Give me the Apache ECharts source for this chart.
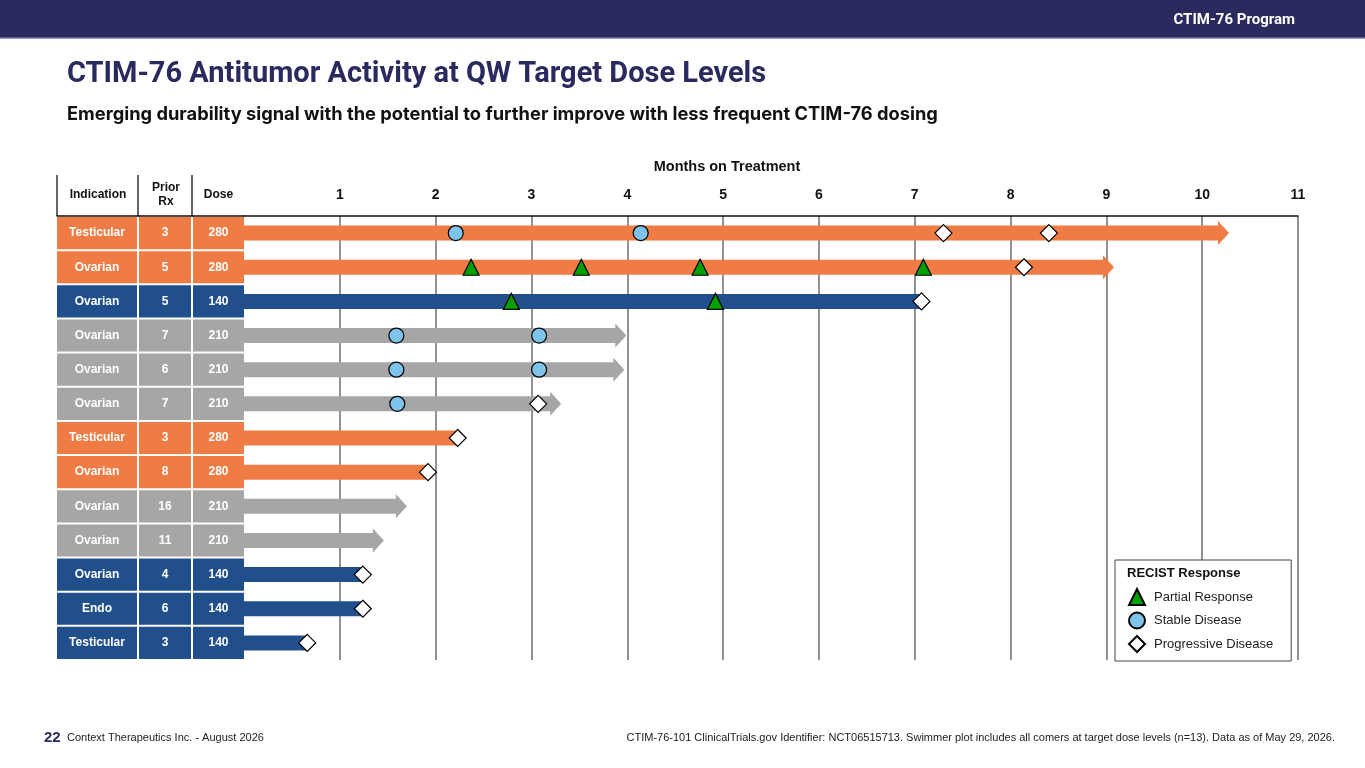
<!DOCTYPE html>
<html>
<head>
<meta charset="utf-8">
<script src="https://cdn.jsdelivr.net/npm/echarts@6/dist/echarts.min.js"></script>
<style>
  html, body { margin: 0; padding: 0; background: #fff; }
  #chart { width: 1365px; height: 768px; }
</style>
</head>
<body>
<div id="chart"></div>
<script>
// one entry per patient, top row first
const rowIds = ['P1', 'P2', 'P3', 'P4', 'P5', 'P6', 'P7', 'P8', 'P9', 'P10', 'P11', 'P12', 'P13'];
const indications = ['Testicular', 'Ovarian', 'Ovarian', 'Ovarian', 'Ovarian', 'Ovarian', 'Testicular', 'Ovarian', 'Ovarian', 'Ovarian', 'Ovarian', 'Endo', 'Testicular'];
const priorRx = [3, 5, 5, 7, 6, 7, 3, 8, 16, 11, 4, 6, 3];
const doses = [280, 280, 140, 210, 210, 210, 280, 280, 210, 210, 140, 140, 140];
const monthsOnTreatment = [10.28, 9.08, 7.07, 3.99, 3.97, 3.31, 2.23, 1.92, 1.70, 1.46, 1.24, 1.24, 0.66];
const ongoing = [true, true, false, true, true, true, false, false, true, true, false, false, false];

// [month, row]
const partialResponse = [[2.37, 1], [3.52, 1], [4.76, 1], [7.09, 1], [2.79, 2], [4.92, 2]];
const stableDisease = [[2.21, 0], [4.14, 0], [1.59, 3], [3.08, 3], [1.59, 4], [3.08, 4], [1.60, 5]];
const progressiveDisease = [[7.30, 0], [8.40, 0], [8.14, 1], [7.07, 2], [3.07, 5], [2.23, 6], [1.92, 7], [1.24, 10], [1.24, 11], [0.66, 12]];

const monthTicks = [1, 2, 3, 4, 5, 6, 7, 8, 9, 10, 11];
const tableHeaders = ['Indication', 'Prior\nRx', 'Dose'];
const legendNames = ['Partial Response', 'Stable Disease', 'Progressive Disease'];

const NAVY = '#2B2A5E';
const FONT = '"Liberation Sans", Arial, sans-serif';
const doseColors = { 280: '#F07C45', 210: '#A6A6A6', 140: '#204F8B' };

const chart = echarts.init(document.getElementById('chart'), null, { renderer: 'canvas' });

const tableColumns = [indications, priorRx, doses];
const tableGrids = [
  { left: 57, top: 216, width: 82, height: 444 },
  { left: 139, top: 216, width: 54, height: 444 },
  { left: 193, top: 216, width: 51, height: 444 }
];

function cellRenderer(col) {
  return function (params, api) {
    const cs = params.coordSys;
    const i = params.dataIndex;
    const yc = api.coord([0, i])[1];
    const band = api.size([0, 1])[1];
    const gap = col < 2 ? 2 : 0;
    return {
      type: 'rect',
      shape: { x: cs.x, y: yc - band / 2 + 1, width: cs.width - gap, height: band - 2 },
      style: { fill: doseColors[doses[i]] },
      textContent: {
        style: { text: String(tableColumns[col][i]), fill: '#fff', font: 'bold 12px ' + FONT }
      },
      textConfig: { position: 'inside' }
    };
  };
}

function renderBar(params, api) {
  const i = params.dataIndex;
  const p0 = api.coord([0, api.value(1)]);
  const p1 = api.coord([api.value(0), api.value(1)]);
  const h = 15, headH = 24, headL = 11;
  const color = doseColors[doses[i]];
  const yTop = p0[1] - h / 2;
  const yBot = p0[1] + h / 2;
  if (!ongoing[i]) {
    return { type: 'rect', shape: { x: p0[0], y: yTop, width: p1[0] - p0[0], height: h }, style: { fill: color } };
  }
  const xb = p1[0] - headL;
  return {
    type: 'polygon',
    shape: {
      points: [[p0[0], yTop], [xb, yTop], [xb, p0[1] - headH / 2], [p1[0], p0[1]],
               [xb, p0[1] + headH / 2], [xb, yBot], [p0[0], yBot]]
    },
    style: { fill: color }
  };
}

const grids = tableGrids.concat([{ left: 244, top: 216, width: 1054, height: 444 }]);

const xAxes = tableHeaders.map((name, k) => ({
  type: 'value', gridIndex: k, min: 0, max: 1, position: 'top',
  axisLine: { show: true, lineStyle: { color: '#111', width: 1.5 } },
  axisTick: { show: false }, axisLabel: { show: false }, splitLine: { show: false },
  name: name, nameLocation: 'middle', nameGap: 21,
  nameTextStyle: { fontFamily: FONT, fontWeight: 'bold', fontSize: 12, color: '#111', verticalAlign: 'middle', lineHeight: 14 }
}));
xAxes.push({
  type: 'value', gridIndex: 3, min: 0, max: 11, interval: 1, position: 'top',
  axisLine: { show: true, lineStyle: { color: '#111', width: 1.5 } },
  axisTick: { show: false },
  axisLabel: {
    formatter: v => (monthTicks.indexOf(v) >= 0 ? String(v) : ''),
    fontFamily: FONT, fontWeight: 'bold', fontSize: 14, color: '#111', margin: 21, verticalAlign: 'middle'
  },
  splitLine: { show: true, showMinLine: false, lineStyle: { color: '#6e6e6e', width: 1.5 } },
  name: 'Months on Treatment', nameLocation: 'middle', nameGap: 49,
  nameTextStyle: { fontFamily: FONT, fontWeight: 'bold', fontSize: 14.5, color: '#111', verticalAlign: 'middle', padding: [0, 88, 0, 0] }
});

const yAxes = grids.map((g, k) => ({
  type: 'category', gridIndex: k, data: rowIds, inverse: true, show: false
}));

const series = tableColumns.map((col, k) => ({
  type: 'custom', xAxisIndex: k, yAxisIndex: k,
  data: rowIds.map((id, i) => [0.5, i]),
  encode: { x: 0, y: 1 },
  renderItem: cellRenderer(k),
  silent: true
}));

series.push({
  type: 'custom', xAxisIndex: 3, yAxisIndex: 3, z: 2,
  data: monthsOnTreatment.map((m, i) => [m, i]),
  encode: { x: 0, y: 1 },
  renderItem: renderBar,
  silent: true
});

const markerStyles = [
  { symbol: 'triangle', symbolSize: 16, color: '#00A000', data: partialResponse },
  { symbol: 'circle', symbolSize: 15, color: '#7DC3EA', data: stableDisease },
  { symbol: 'diamond', symbolSize: 17, color: '#ffffff', data: progressiveDisease }
];
markerStyles.forEach((m, k) => {
  series.push({
    name: legendNames[k], type: 'scatter', xAxisIndex: 3, yAxisIndex: 3, z: 5,
    symbol: m.symbol, symbolSize: m.symbolSize,
    itemStyle: { color: m.color, borderColor: '#000', borderWidth: 1.2, opacity: 1 },
    data: m.data
  });
});

const option = {
  animation: false,
  backgroundColor: '#fff',
  graphic: [
    { type: 'rect', z: -1, shape: { x: 0, y: 0, width: 1365, height: 38 }, style: { fill: NAVY } },
    { type: 'line', z: -1, shape: { x1: 0, y1: 38, x2: 1365, y2: 38 }, style: { stroke: '#7276A6', lineWidth: 1.5 } },
    { type: 'line', shape: { x1: 57, y1: 175, x2: 57, y2: 216 }, style: { stroke: '#333', lineWidth: 1.5 } },
    { type: 'line', shape: { x1: 138, y1: 175, x2: 138, y2: 216 }, style: { stroke: '#333', lineWidth: 1.5 } },
    { type: 'line', shape: { x1: 192, y1: 175, x2: 192, y2: 216 }, style: { stroke: '#333', lineWidth: 1.5 } }
  ],
  title: [
    { text: 'CTIM-76 Program', right: 70, top: 13, padding: 0,
      textStyle: { color: '#fff', fontSize: 15, fontWeight: 'bold', fontFamily: 'Roboto' } },
    { text: 'CTIM-76 Antitumor Activity at QW Target Dose Levels', left: 67, top: 60, padding: 0,
      textStyle: { color: NAVY, fontSize: 29, fontWeight: 'bold', fontFamily: 'Roboto' } },
    { text: 'Emerging durability signal with the potential to further improve with less frequent CTIM-76 dosing', left: 67, top: 106, padding: 0,
      textStyle: { color: '#111', fontSize: 18.3, fontWeight: 'bold', fontFamily: 'Inter' } },
    { text: 'RECIST Response', left: 1127, top: 567, padding: 0, z: 20,
      textStyle: { color: '#111', fontSize: 13, fontWeight: 'bold', fontFamily: FONT } },
    { text: '22', left: 44, top: 730, padding: 0,
      textStyle: { color: NAVY, fontSize: 15, fontWeight: 'bold', fontFamily: FONT } },
    { text: 'Context Therapeutics Inc. - August 2026', left: 67, top: 732, padding: 0,
      textStyle: { color: '#222', fontSize: 11, fontWeight: 'normal', fontFamily: FONT } },
    { text: 'CTIM-76-101 ClinicalTrials.gov Identifier: NCT06515713. Swimmer plot includes all comers at target dose levels (n=13). Data as of May 29, 2026.',
      right: 30, top: 732, padding: 0,
      textStyle: { color: '#222', fontSize: 11, fontWeight: 'normal', fontFamily: FONT } }
  ],
  legend: {
    data: legendNames, orient: 'vertical', left: 1115, top: 560, z: 10,
    padding: [28, 18, 8, 13], itemGap: 5.5, itemWidth: 16, itemHeight: 16,
    backgroundColor: '#fff', borderColor: '#444', borderWidth: 1,
    textStyle: { fontFamily: FONT, fontSize: 13, color: '#222', lineHeight: 16, padding: [0, 0, 0, 4] },
    selectedMode: false
  },
  grid: grids,
  xAxis: xAxes,
  yAxis: yAxes,
  series: series
};

chart.setOption(option);
window.addEventListener('resize', () => chart.resize());
</script>
</body>
</html>
